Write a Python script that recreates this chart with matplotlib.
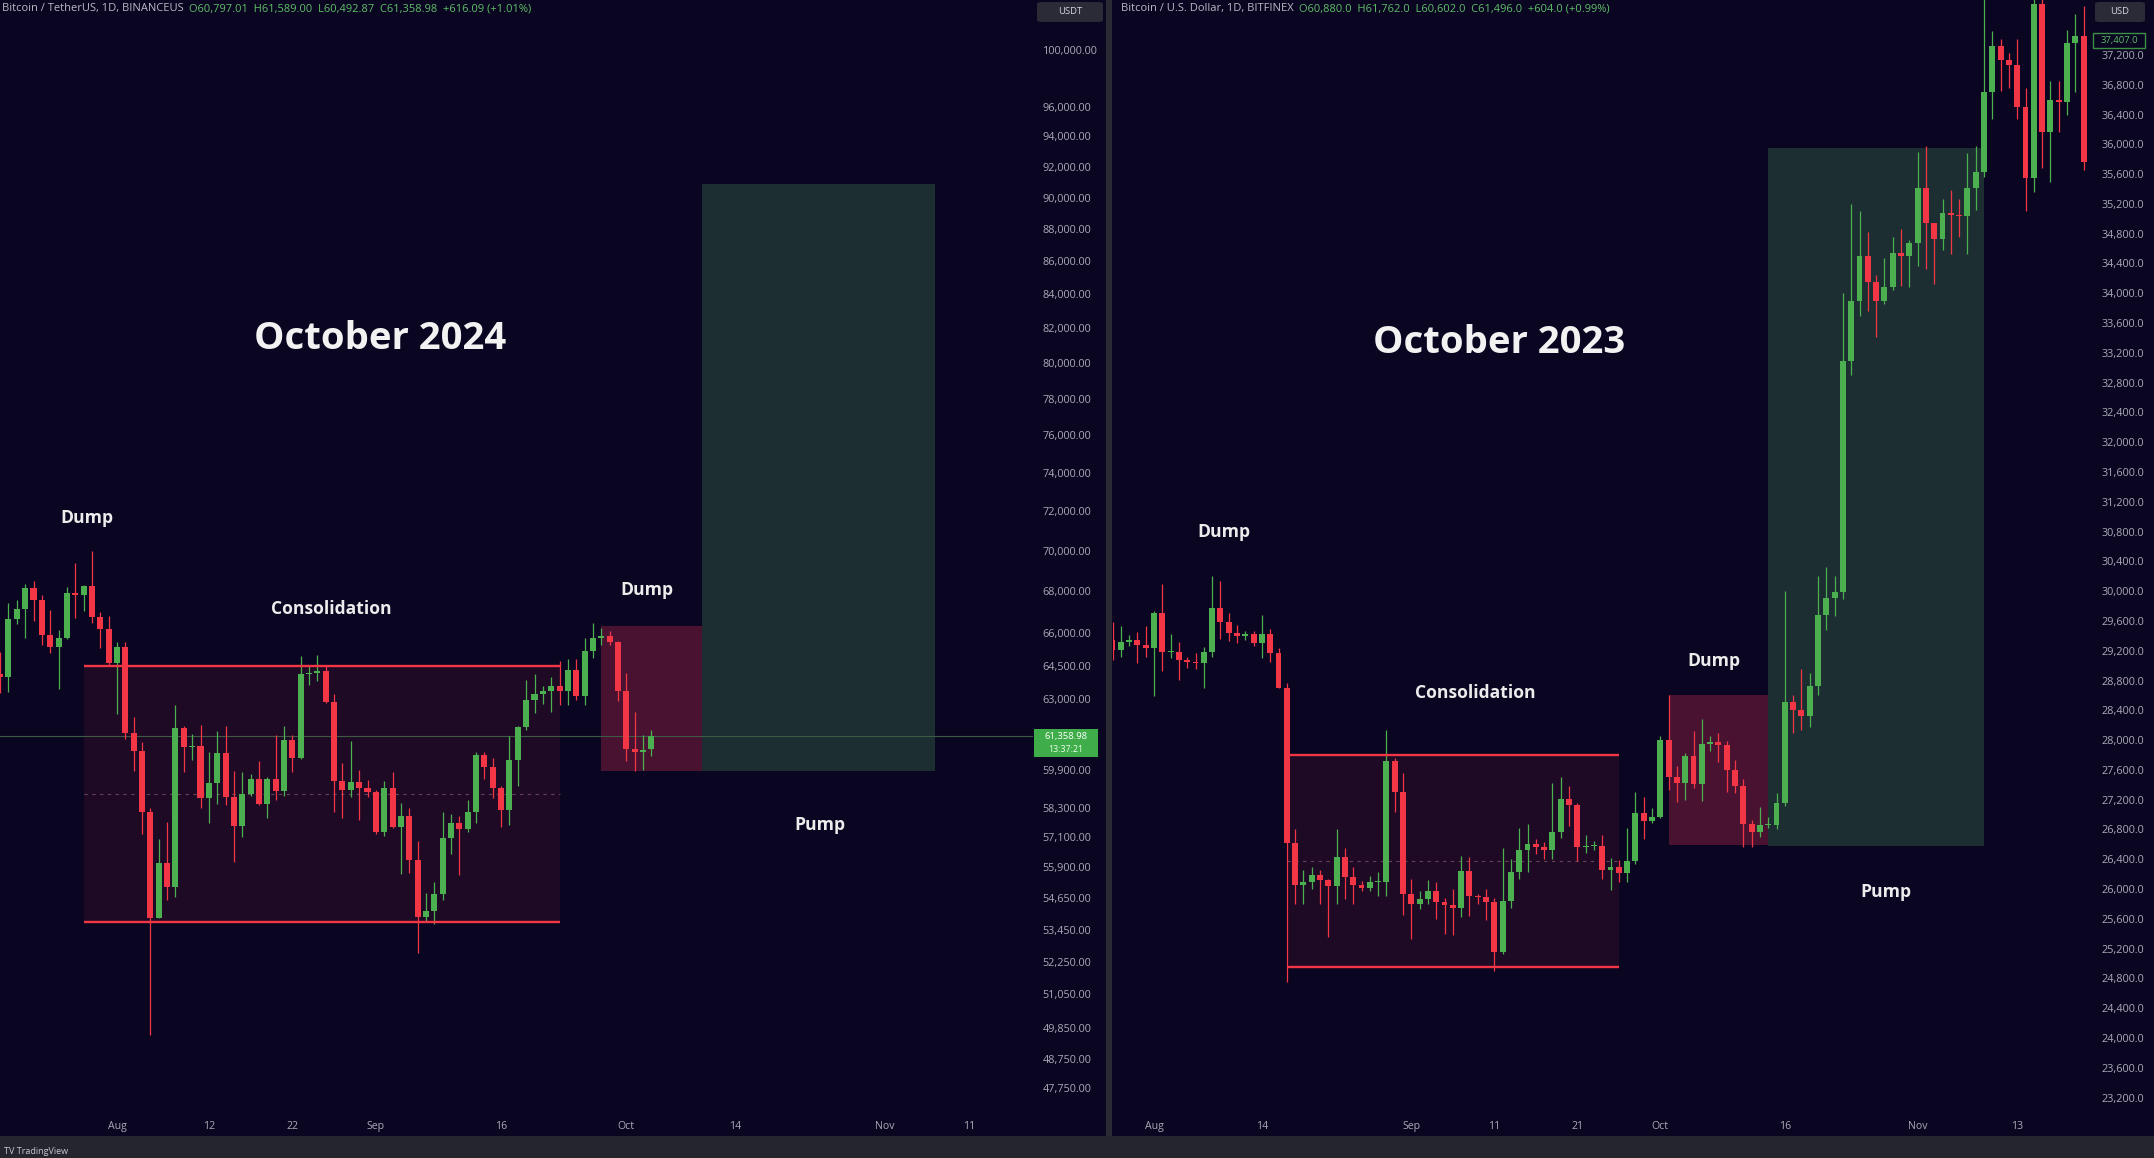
import numpy as np
import pandas as pd
import matplotlib
matplotlib.use('Agg')
import matplotlib.pyplot as plt
import matplotlib.dates as mdates
from matplotlib.patches import Rectangle, FancyBboxPatch
from matplotlib.ticker import FixedLocator, NullLocator

# ---------------- DATA ----------------
# Left panel: Bitcoin / TetherUS 1D (Jul 18 - Oct 4, 2024)
dates_2024 = pd.date_range('2024-07-18', '2024-10-04', freq='D')
open_2024 = [64100, 63980, 66670, 67150, 68170, 67580, 65930, 65370, 65780, 67900, 67810, 68250, 66790, 66190,
             64620, 65350, 61500, 60700, 58100, 53900, 56050, 55100, 61700, 60850, 60920, 58700, 59350, 60600, 58740,
             57560, 58880, 59480, 58450, 59490, 59010, 61160, 60380, 64100, 64180, 64250, 62830, 59420, 59030, 59370, 59120,
             58970, 57300, 59130, 57480, 57970, 56160, 53950, 54160, 54840, 57040, 57650, 57400, 58130, 60540, 60000,
             59130, 58210, 60310, 61760, 62950, 63200, 63350, 63580, 63330, 64280, 63140, 65180, 65790, 65880, 65600,
             63330, 60800, 60650, 60797]
high_2024 = [65130, 67450, 67600, 68370, 68480, 67800, 67100, 66150, 68200, 69400, 68300, 70000, 66990, 66800,
             65600, 65600, 62200, 61100, 58300, 57000, 57700, 62700, 61800, 61450, 61850, 60650, 61550, 61800, 59850,
             59800, 59700, 60250, 59600, 61400, 61800, 61400, 64950, 64500, 65000, 64480, 63200, 60200, 61150, 59900, 59450,
             59050, 59400, 59800, 58500, 58300, 56950, 54850, 55300, 58100, 58050, 57950, 58600, 60650, 60650, 60400,
             59200, 61350, 61800, 63850, 64100, 63550, 64000, 64700, 64800, 64800, 65800, 66500, 66250, 66100, 65650,
             64150, 62400, 61400, 61589]
low_2024 = [63250, 63300, 66450, 65800, 66600, 65450, 65100, 63450, 65750, 66700, 67050, 66500, 65300, 64530,
            62300, 61200, 59850, 57200, 49600, 53900, 54600, 54700, 59800, 60300, 58300, 57650, 58450, 58400, 56100,
            57100, 58800, 58400, 57850, 58600, 58800, 59800, 60350, 63600, 63800, 62800, 58100, 57850, 58750, 57800, 58750,
            57200, 57150, 57450, 55600, 55650, 52550, 53750, 53650, 54600, 56400, 55550, 57300, 57650, 59500, 58700,
            57500, 57600, 59200, 61600, 62350, 62750, 62400, 62700, 62700, 62950, 62700, 64850, 65450, 65450, 62900,
            60250, 59850, 59900, 60493]
close_2024 = [63980, 66670, 67150, 68170, 67580, 65930, 65370, 65780, 67900, 67810, 68250, 66790, 66190, 64620,
              65350, 61500, 60700, 58100, 53900, 56050, 55100, 61700, 60850, 60920, 58700, 59350, 60600, 58740, 57560,
              58880, 59480, 58450, 59490, 59010, 61160, 60380, 64100, 64180, 64250, 62830, 59420, 59030, 59370, 59120, 58970,
              57300, 59130, 57480, 57970, 56160, 53950, 54160, 54840, 57040, 57650, 57400, 58130, 60540, 60000, 59130,
              58210, 60310, 61760, 62950, 63200, 63350, 63580, 63330, 64280, 63140, 65180, 65790, 65880, 65600, 63330,
              60800, 60650, 60750, 61359]

# Right panel: Bitcoin / U.S. Dollar 1D (Jul 27 - Nov 21, 2023)
dates_2023 = pd.date_range('2023-07-27', '2023-11-21', freq='D')
open_2023 = [29350, 29210, 29320, 29350, 29280,
             29230, 29700, 29180, 29180, 29070, 29050, 29040, 29180, 29770, 29580, 29440, 29400, 29420, 29300, 29430, 29170,
             28700, 26620, 26050, 26100, 26190, 26120, 26040, 26430, 26160, 26050, 26010, 26090, 26100, 27720, 27300,
             25940, 25800, 25870, 25970, 25820, 25790, 25750, 26240, 25900, 25890, 25830, 25160, 25840, 26230, 26530,
             26600, 26570, 26530, 26760, 27210, 27130, 26570, 26580, 26580, 26250, 26300, 26220, 26370, 27020, 26910,
             26970, 28000, 27500, 27430, 27790, 27410, 27950, 27970, 27940, 27600, 27390, 26880, 26760, 26860, 26860,
             27150, 28510, 28410, 28320, 28720, 29680, 29910, 29990, 33090, 33900, 34500, 34150, 33890, 34090, 34540, 34500,
             34670, 35420, 34940, 34730, 35080, 35050, 35040, 35420, 35630, 36700, 37320, 37130, 37060, 36500, 35550,
             37880, 36160, 36600, 36570, 37360, 37450]
high_2023 = [29580, 29530, 29410, 29450, 29530,
             29740, 30100, 29420, 29320, 29110, 29170, 29250, 30200, 30140, 29700, 29540, 29470, 29470, 29680, 29490, 29230,
             28770, 26800, 26260, 26290, 26250, 26140, 26800, 26550, 26300, 26110, 26180, 26230, 28140, 27760, 27560,
             26130, 25980, 26120, 26090, 25880, 26000, 26440, 26430, 25930, 26000, 25880, 26550, 26400, 26820, 26880,
             26670, 26630, 27420, 27500, 27380, 27150, 26730, 26640, 26720, 26420, 26390, 26820, 27300, 27230, 27090,
             28050, 28600, 27650, 27830, 28120, 28280, 28050, 28100, 27990, 27730, 27480, 26930, 27100, 26970, 27290,
             30000, 28600, 28960, 28900, 30200, 30330, 30200, 34000, 35200, 35100, 34820, 34250, 34480, 34760, 34860, 34720,
             35900, 35980, 34940, 35260, 35380, 35270, 35880, 35980, 37970, 37520, 37410, 37230, 37420, 36760, 37970,
             37970, 36850, 36850, 37530, 37750, 37860]
low_2023 = [29070, 29120, 29260, 29030, 29110,
            28590, 28930, 29100, 28810, 28970, 28960, 28700, 29110, 29360, 29330, 29300, 29350, 29260, 29100, 29050, 28700,
            24750, 25800, 25800, 26000, 25800, 25350, 25800, 25860, 25800, 25980, 25980, 25900, 25910, 27030, 25650,
            25330, 25730, 25800, 25600, 25400, 25380, 25620, 25640, 25800, 25580, 24900, 25130, 25750, 26130, 26230,
            26470, 26400, 26400, 26680, 26840, 26370, 26480, 26520, 26130, 25990, 26090, 26100, 26340, 26670, 26890,
            26950, 27330, 27170, 27200, 27360, 27180, 27860, 27700, 27300, 27290, 26560, 26560, 26700, 26820, 26810,
            27120, 28100, 28140, 28180, 28600, 29480, 29670, 29900, 32900, 33700, 33760, 33410, 33860, 34050, 34100, 34080,
            34360, 34330, 34120, 34580, 34530, 34750, 34530, 35120, 35560, 36340, 36720, 36760, 36340, 35100, 35360,
            35680, 35500, 36170, 36400, 36700, 35650]
close_2023 = [29210, 29320, 29350, 29280, 29230,
              29700, 29180, 29180, 29070, 29050, 29040, 29180, 29770, 29580, 29440, 29400, 29420, 29300, 29430, 29170, 28700,
              26620, 26050, 26100, 26190, 26120, 26040, 26430, 26160, 26050, 26010, 26090, 26100, 27720, 27300, 25940,
              25800, 25870, 25970, 25820, 25790, 25750, 26240, 25900, 25890, 25830, 25160, 25840, 26230, 26530, 26600,
              26570, 26530, 26760, 27210, 27130, 26570, 26580, 26580, 26250, 26300, 26220, 26370, 27020, 26910, 26970,
              28000, 27500, 27430, 27790, 27410, 27950, 27970, 27940, 27600, 27390, 26880, 26760, 26860, 26860, 27150,
              28510, 28410, 28320, 28720, 29680, 29910, 29990, 33090, 33900, 34500, 34150, 33890, 34090, 34540, 34500, 34670,
              35420, 34940, 34730, 35080, 35050, 35040, 35420, 35630, 36700, 37320, 37130, 37060, 36500, 35550, 37880,
              36160, 36600, 36570, 37360, 37450, 35760]

# Annotation zones: (start date, end date, top price, bottom price)
consol_2024 = ('2024-07-28', '2024-09-23', 64500, 53750)
dump_2024 = ('2024-09-28', '2024-10-10', 66350, 59850)
pump_2024 = ('2024-10-10', '2024-11-07', 90900, 59850)
consol_2023 = ('2023-08-17', '2023-09-26', 27800, 24950)
dump_2023 = ('2023-10-02', '2023-10-14', 28600, 26590)
pump_2023 = ('2023-10-14', '2023-11-09', 35950, 26580)

left_ticks = [100000, 96000, 94000, 92000, 90000, 88000, 86000, 84000, 82000, 80000, 78000, 76000, 74000,
              72000, 70000, 68000, 66000, 64500, 63000, 59900, 58300, 57100, 55900, 54650, 53450, 52250,
              51050, 49850, 48750, 47750]
right_ticks = [37200, 36800, 36400, 36000, 35600, 35200, 34800, 34400, 34000, 33600, 33200, 32800, 32400,
               32000, 31600, 31200, 30800, 30400, 30000, 29600, 29200, 28800, 28400, 28000, 27600, 27200,
               26800, 26400, 26000, 25600, 25200, 24800, 24400, 24000, 23600, 23200]
left_xticks = ['2024-08-01', '2024-08-12', '2024-08-22', '2024-09-01', '2024-09-16', '2024-10-01',
               '2024-10-14', '2024-11-01', '2024-11-11']
left_xlabels = ['Aug', '12', '22', 'Sep', '16', 'Oct', '14', 'Nov', '11']
right_xticks = ['2023-08-01', '2023-08-14', '2023-09-01', '2023-09-11', '2023-09-21', '2023-10-01',
                '2023-10-16', '2023-11-01', '2023-11-13']
right_xlabels = ['Aug', '14', 'Sep', '11', '21', 'Oct', '16', 'Nov', '13']
last_price_2024 = 61358.98
last_label_2023 = 37407.0

# ---------------- STYLE ----------------
W, H = 2154, 1158
BG = '#0a0520'
UP = '#4caf50'
DN = '#f23645'
TXT = '#a9abb8'
FONT = 'Open Sans'
plt.rcParams['font.family'] = [FONT, 'DejaVu Sans']

fig = plt.figure(figsize=(W / 100, H / 100), dpi=100, facecolor=BG)


def add_panel(x0, x1, y0, y1):
    ax = fig.add_axes([x0 / W, 1 - y1 / H, (x1 - x0) / W, (y1 - y0) / H])
    ax.set_facecolor(BG)
    for s in ax.spines.values():
        s.set_visible(False)
    return ax


axL = add_panel(0, 1033, 0, 1110)
axR = add_panel(1113, 2090, 0, 1110)


def dnum(s):
    return mdates.date2num(pd.Timestamp(s))


def candles(ax, d, o, h, l, c, width, minfrac, minabs):
    x = mdates.date2num(d)
    o, h, l, c = (np.asarray(v, dtype=float) for v in (o, h, l, c))
    col = np.where(c >= o, UP, DN)
    ax.vlines(x, l, h, colors=col, lw=0.9, zorder=3)
    bottom = np.minimum(o, c)
    height = np.maximum(np.abs(c - o), bottom * minfrac + minabs)
    ax.bar(x, height, width, bottom=bottom, color=col, zorder=4, linewidth=0)


def zone(ax, spec, face, zo=1):
    x0, x1 = dnum(spec[0]), dnum(spec[1])
    ax.add_patch(Rectangle((x0, spec[3]), x1 - x0, spec[2] - spec[3], facecolor=face,
                           edgecolor='none', zorder=zo))


def consol(ax, spec, mid):
    x0, x1 = dnum(spec[0]), dnum(spec[1])
    zone(ax, spec, '#1e0a24')
    ax.hlines([spec[2], spec[3]], x0, x1, colors=DN, lw=1.7, zorder=5)
    ax.hlines(mid, x0, x1, colors='#6a4058', lw=0.8, linestyles=(0, (3, 4)), zorder=2)


# ----- left panel -----
aug1 = dnum('2024-08-01')
axL.set_xlim(aug1 - 117 / 8.35, aug1 + (1033 - 117) / 8.35)
axL.set_yscale('log')
axL.set_ylim(47010, 103586)
consol(axL, consol_2024, np.sqrt(consol_2024[2] * consol_2024[3]))
zone(axL, dump_2024, '#4a1231')
zone(axL, pump_2024, '#1c2e31')
axL.axhline(last_price_2024, color='#3d5a45', lw=0.8, zorder=2)
candles(axL, dates_2024, open_2024, high_2024, low_2024, close_2024, 0.72, 0.0012, 0)

axL.yaxis.set_major_locator(FixedLocator(left_ticks))
axL.yaxis.set_minor_locator(NullLocator())
axL.set_yticklabels([f'{v:,.2f}' for v in left_ticks])
axL.yaxis.tick_right()
axL.tick_params(axis='y', length=0, pad=7, labelsize=7.8, labelcolor=TXT)
axL.set_xticks([dnum(s) for s in left_xticks])
axL.set_xticklabels(left_xlabels)
axL.xaxis.set_minor_locator(NullLocator())
axL.tick_params(axis='x', length=0, pad=8, labelsize=7.6, labelcolor=TXT)

# ----- right panel -----
aug1b = dnum('2023-08-01')
axR.set_xlim(aug1b - (1154 - 1113) / 8.3, aug1b + (2090 - 1154) / 8.3)
axR.set_ylim(23033, 37938)
consol(axR, consol_2023, (consol_2023[2] + consol_2023[3]) / 2)
zone(axR, dump_2023, '#4a1231')
zone(axR, pump_2023, '#1c2e31')
candles(axR, dates_2023, open_2023, high_2023, low_2023, close_2023, 0.72, 0, 12)
axR.yaxis.set_major_locator(FixedLocator(right_ticks))
axR.set_yticklabels([f'{v:,.1f}' for v in right_ticks])
axR.yaxis.tick_right()
axR.tick_params(axis='y', length=0, pad=8, labelsize=7.8, labelcolor=TXT)
axR.set_xticks([dnum(s) for s in right_xticks])
axR.set_xticklabels(right_xlabels)
axR.tick_params(axis='x', length=0, pad=8, labelsize=7.6, labelcolor=TXT)


# ----- figure decorations (pixel coordinates) -----
def ftext(px, py, s, **kw):
    return fig.text(px / W, 1 - py / H, s, **kw)


def frect(px0, py0, px1, py1, **kw):
    fig.patches.append(Rectangle((px0 / W, 1 - py1 / H), (px1 - px0) / W, (py1 - py0) / H,
                                 transform=fig.transFigure, **kw))


# divider and footer
frect(1106, 0, 1112, 1136, facecolor='#2a2a34', edgecolor='none', zorder=0)
frect(0, 1136, W, H, facecolor='#24252d', edgecolor='none', zorder=0)
ftext(4, 1151, 'TV TradingView', fontsize=6.5, color='#c8c8d0', va='center', ha='left')

# currency boxes
for (x0, x1, lab) in [(1037, 1103, 'USDT'), (2095, 2145, 'USD')]:
    fig.patches.append(FancyBboxPatch(((x0) / W, 1 - 22 / H), (x1 - x0) / W, 20 / H,
                                      boxstyle='round,pad=0,rounding_size=0.002',
                                      transform=fig.transFigure, facecolor='#2a2b36', edgecolor='none'))
    ftext((x0 + x1) / 2, 12, lab, fontsize=6.8, color='#d1d4dc', ha='center', va='center')

# last price label left
frect(1034, 729, 1098, 757, facecolor='#3fae4a', edgecolor='none', zorder=5)
ftext(1066, 737, f'{last_price_2024:,.2f}', fontsize=6.8, color='#ffffff', ha='center', va='center', zorder=6)
ftext(1066, 750, '13:37:21', fontsize=6.4, color='#e8ffe8', ha='center', va='center', zorder=6)

# right top price label
frect(2093, 33, 2145, 48, facecolor=BG, edgecolor='#3a8f45', lw=1, zorder=5)
ftext(2119, 40.5, f'{last_label_2023:,.1f}', fontsize=6.8, color='#5cc066', ha='center', va='center', zorder=6)

# headers
renderer = fig.canvas.get_renderer()
for (px, name, vals) in [
        (2, 'Bitcoin / TetherUS, 1D, BINANCEUS  ',
         'O60,797.01  H61,589.00  L60,492.87  C61,358.98  +616.09 (+1.01%)'),
        (1121, 'Bitcoin / U.S. Dollar, 1D, BITFINEX  ',
         'O60,880.0  H61,762.0  L60,602.0  C61,496.0  +604.0 (+0.99%)')]:
    t = ftext(px, 9, name, fontsize=8.0, color='#b8bac4', ha='left', va='center')
    bb = t.get_window_extent(renderer)
    ftext(bb.x1, 9, vals, fontsize=8.0, color='#5fbf6a', ha='left', va='center')

# annotations
big = dict(fontsize=27.5, fontweight='bold', color='#f2f2f2', ha='center', va='center')
small = dict(fontsize=12.6, fontweight='bold', color='#ececec', ha='center', va='center')
ftext(380, 339, 'October 2024', **big)
ftext(1499, 343, 'October 2023', **big)
ftext(87, 518, 'Dump', **small)
ftext(331, 609, 'Consolidation', **small)
ftext(647, 590, 'Dump', **small)
ftext(820, 825, 'Pump', **small)
ftext(1224, 532, 'Dump', **small)
ftext(1475, 693, 'Consolidation', **small)
ftext(1714, 661, 'Dump', **small)
ftext(1886, 892, 'Pump', **small)

fig.savefig('out.png', dpi=100, facecolor=BG)
